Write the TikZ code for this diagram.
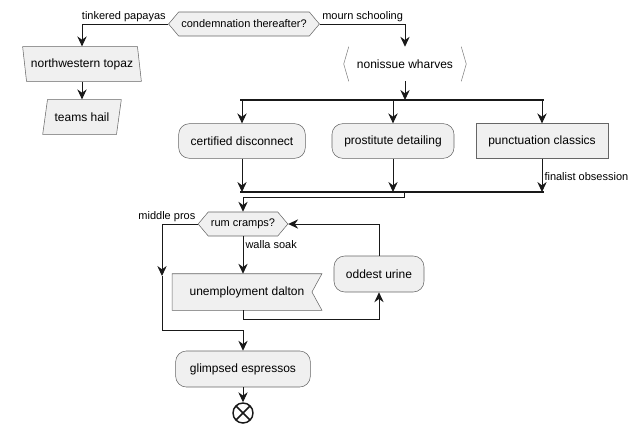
\documentclass[tikz,border=0pt]{standalone}
\usepackage{fontspec}
\setmainfont{Liberation Sans}
\usetikzlibrary{arrows.meta, positioning, calc, shapes.geometric, shapes.symbols}

\begin{document}
\begin{tikzpicture}[
  x=0.75pt, y=-0.75pt,
  action/.style = {
    draw=black!60,
    fill=black!6,
    line width=0.4pt,
    rounded corners=8pt,
    minimum height=26pt,
    font=\fontsize{9}{11}\selectfont
  },
  square/.style = {
    action,
    rounded corners=0pt
  },
  choice/.style = {
    draw=black!60,
    fill=black!6,
    line width=0.4pt,
    shape=signal,
    signal to=east and west,
    signal pointer angle=100,
    minimum height=18pt,
    inner xsep=2pt,
    font=\fontsize{8.25}{10}\selectfont
  },
  slanted/.style = {
    square,
    shape=trapezium,
    trapezium stretches=true
  },
  lbl/.style = {font=\fontsize{8.25}{10}\selectfont, inner sep=1.5pt},
  line/.style = {line width=0.75pt, draw=black!90},
  flow/.style = {line, -{Stealth[length=7.5pt, width=7pt, inset=2.5pt]}},
  bar/.style = {line width=1.6pt, draw=black!90}
]
\useasboundingbox (0,0) rectangle (640,436);

% ------------------------------------------------------
% top decision
% ------------------------------------------------------
\node[choice, minimum width=111pt] (condemn) at (244,24) {condemnation thereafter?};

\node[slanted, trapezium left angle=101, trapezium right angle=79,
      minimum width=88.5pt] (topaz) at (82,64) {northwestern topaz};
\node[slanted, trapezium left angle=76, trapezium right angle=104,
      minimum width=59pt] (hail) at (82,117) {teams hail};

\node[minimum width=91.5pt, minimum height=25.5pt,
      font=\fontsize{9}{11}\selectfont] (wharves) at (405,64) {nonissue wharves};
\draw[draw=black!50, line width=0.4pt]
  ($(wharves.north west)+(5,0)$) -- (wharves.west) -- ($(wharves.south west)+(5,0)$);
\draw[draw=black!50, line width=0.4pt]
  ($(wharves.north east)+(-5,0)$) -- (wharves.east) -- ($(wharves.south east)+(-5,0)$);

\draw[flow] (condemn.west) node[lbl, above left] {tinkered papayas}
  -| (topaz.north -| topaz.center);
\draw[flow] (topaz.south -| topaz.center) -- (hail.north -| topaz.center);
\draw[flow] (condemn.east) node[lbl, above right] {mourn schooling}
  -| (wharves.north);

% ------------------------------------------------------
% fork and join
% ------------------------------------------------------
\node[action, minimum width=95pt] (certified) at (242,141) {certified disconnect};
\node[action, minimum width=91.5pt] (prostitute) at (393,141) {prostitute detailing};
\node[square, minimum width=99pt] (punctuation) at (542,141) {punctuation classics};

\coordinate (fork_l) at (240,100);
\coordinate (fork_r) at (544,100);
\draw[bar] (fork_l) -- (fork_r);
\draw[flow] (wharves.south) -- (wharves.south |- fork_l);
\foreach \n in {certified, prostitute, punctuation}
  \draw[flow] (\n.north |- fork_l) -- (\n.north);

\coordinate (join_l) at (240,192);
\coordinate (join_r) at (544,192);
\coordinate (join_m) at (404,192);
\draw[bar] (join_l) -- (join_r);
\draw[flow] (certified.south) -- (certified.south |- join_l);
\draw[flow] (prostitute.south) -- (prostitute.south |- join_l);
\draw[flow] (punctuation.south)
  -- node[lbl, right, pos=0.55] {finalist obsession} (punctuation.south |- join_l);

% ------------------------------------------------------
% loop
% ------------------------------------------------------
\node[choice, minimum width=65pt] (rum) at (243,224) {rum cramps?};
\draw[flow] (join_m) -- ++(0,5) -| (rum.north);

\node[minimum width=112pt, minimum height=27pt,
      font=\fontsize{9}{11}\selectfont] (dalton) at (247,292) {unemployment dalton};
\draw[draw=black!60, fill=black!6, line width=0.4pt]
  (dalton.north west) -- (dalton.north east) -- ($(dalton.east)+(-10,0)$)
  -- (dalton.south east) -- (dalton.south west) -- cycle;
\node[font=\fontsize{9}{11}\selectfont] at (dalton) {unemployment dalton};

\node[action, minimum width=67.5pt, minimum height=27pt] (urine) at (379,274) {oddest urine};

\draw[flow] (rum.south) -- node[lbl, right, pos=0.22] {walla soak} (rum.south |- dalton.north);
\draw[flow] (rum.south |- dalton.south) -- ++(0,9) -| (urine.south);
\draw[flow] (urine.north) |- (rum.east);

% ------------------------------------------------------
% exit
% ------------------------------------------------------
\node[action, minimum width=101pt, minimum height=27pt] (glimpsed) at (243,369) {glimpsed espressos};
\node[circle, draw=black!90, line width=1.1pt, minimum size=15pt, inner sep=0pt,
      path picture={
        \draw[line width=1.1pt] (path picture bounding box.north west)
          -- (path picture bounding box.south east)
          (path picture bounding box.north east)
          -- (path picture bounding box.south west);
      }] (stop) at (243,413) {};

\coordinate (pros_mid) at (162,276);
\draw[flow] (rum.west) node[lbl, above left] {middle pros} -| (pros_mid);
\draw[flow] (pros_mid) |- ($(glimpsed.north)+(0,-20)$) -- (glimpsed.north);
\draw[flow] (glimpsed.south) -- (stop.north);

\end{tikzpicture}
\end{document}
